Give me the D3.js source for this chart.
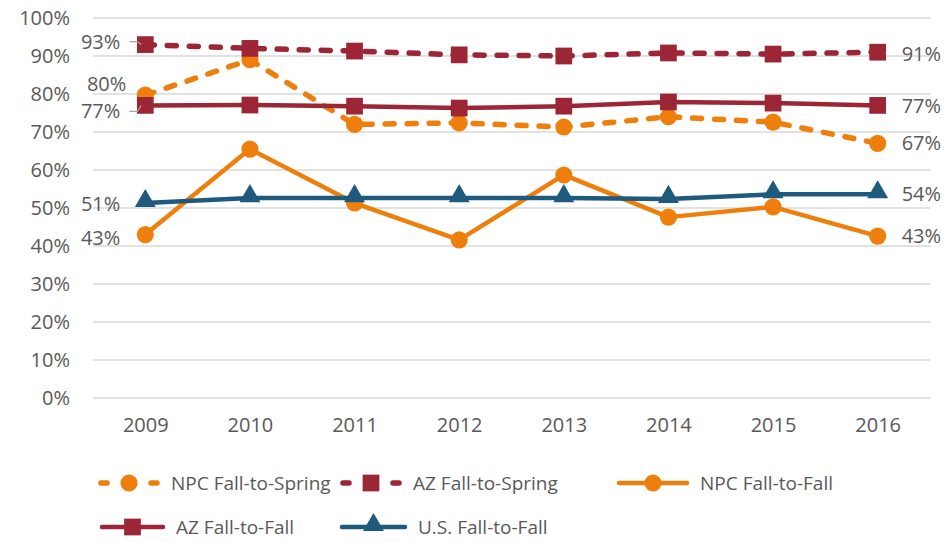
<!DOCTYPE html>
<html>
<head>
<meta charset="utf-8">
<script src="https://cdn.jsdelivr.net/npm/d3@7"></script>
<style>
    body { margin: 0; background: #fff; }
    text { font-family: "Open Sans", sans-serif; fill: #595959; }
</style>
</head>
<body>
<div id="chart"></div>
<script>
// data
var years = ["2009", "2010", "2011", "2012", "2013", "2014", "2015", "2016"];
var npcFallSpring = [0.797, 0.89, 0.72, 0.724, 0.713, 0.74, 0.726, 0.67];
var azFallSpring = [0.93, 0.92, 0.913, 0.903, 0.90, 0.908, 0.905, 0.91];
var npcFallFall = [0.43, 0.655, 0.513, 0.416, 0.587, 0.476, 0.503, 0.426];
var azFallFall = [0.77, 0.771, 0.768, 0.763, 0.768, 0.779, 0.776, 0.77];
var usFallFall = [0.513, 0.526, 0.526, 0.526, 0.526, 0.524, 0.536, 0.536];
var yTicks = [0, 0.1, 0.2, 0.3, 0.4, 0.5, 0.6, 0.7, 0.8, 0.9, 1];

var orange = "#EF7F0C", maroon = "#9C2536", blue = "#1D5A7E";

var series = [
    { name: "NPC Fall-to-Spring", values: npcFallSpring, color: orange, dash: true, marker: "circle" },
    { name: "AZ Fall-to-Spring", values: azFallSpring, color: maroon, dash: true, marker: "square" },
    { name: "NPC Fall-to-Fall", values: npcFallFall, color: orange, dash: false, marker: "circle" },
    { name: "AZ Fall-to-Fall", values: azFallFall, color: maroon, dash: false, marker: "square" },
    { name: "U.S. Fall-to-Fall", values: usFallFall, color: blue, dash: false, marker: "triangle" }
];

// label offsets (left = at 2009, right = at 2016)
var leftDy = [-11, -3, 3, 6, 1];
var rightDy = [0, 2, 0, 1, 0];

var W = 947, H = 542;
var svg = d3.select("#chart").append("svg")
    .attr("width", W).attr("height", H);

var xScale = d3.scalePoint().domain(years).range([93, 930]).padding(0.5);
var yScale = d3.scaleLinear().domain([0, 1]).range([398, 18]);

// gridlines
svg.append("g")
    .selectAll("line")
    .data(yTicks)
    .enter()
    .append("line")
    .attr("x1", 93).attr("x2", 930)
    .attr("y1", function (d) { return yScale(d) })
    .attr("y2", function (d) { return yScale(d) })
    .attr("stroke", "#d9d9d9")
    .attr("stroke-width", 1.5);

// y axis
var yAxis = d3.axisLeft(yScale).tickValues(yTicks).tickFormat(d3.format(".0%")).tickSize(0).tickPadding(0);
var gy = svg.append("g").attr("transform", "translate(70,0)").call(yAxis);
gy.select(".domain").remove();
gy.selectAll("text").style("font-size", "20px").attr("fill", "#595959");

// x axis
var xAxis = d3.axisBottom(xScale).tickSize(0).tickPadding(0);
var gx = svg.append("g").attr("transform", "translate(0,420)").call(xAxis);
gx.select(".domain").remove();
gx.selectAll("text").style("font-size", "20px").attr("fill", "#595959").attr("dy", "0.6em");

var symbols = {
    circle: d3.symbol().type(d3.symbolCircle).size(230),
    square: d3.symbol().type(d3.symbolSquare).size(280),
    triangle: d3.symbol().type(d3.symbolTriangle).size(190)
};

function strokeLine(sel, s) {
    sel.attr("stroke", s.color)
        .attr("stroke-width", s.dash ? 5.5 : 4.5)
        .attr("fill", "none")
        .attr("stroke-linecap", s.dash ? "round" : "butt")
        .attr("stroke-linejoin", "round")
        .attr("stroke-dasharray", s.dash ? "9,13" : null);
}

function marker(g, s, x, y) {
    g.append("path")
        .attr("d", symbols[s.marker]())
        .attr("transform", "translate(" + x + "," + (s.marker == "triangle" ? y - 2 : y) + ")")
        .attr("fill", s.color);
}

var line = d3.line()
    .x(function (d, i) { return xScale(years[i]) })
    .y(function (d) { return yScale(d) });

series.forEach(function (s) {
    var g = svg.append("g");
    g.append("path").attr("d", line(s.values)).call(strokeLine, s);
    s.values.forEach(function (v, i) { marker(g, s, xScale(years[i]), yScale(v)); });
});

// data labels
var fmt = function (v) { return Math.round(v * 100) + "%"; };
series.forEach(function (s, k) {
    var v0 = s.values[0], v1 = s.values[s.values.length - 1];
    var lx = xScale(years[0]) - (k == 0 ? 19 : 25);
    svg.append("text")
        .attr("x", lx)
        .attr("y", yScale(v0) + leftDy[k])
        .attr("dy", "0.35em")
        .attr("text-anchor", "end")
        .style("font-size", "20px")
        .text(fmt(v0));
    svg.append("text")
        .attr("x", xScale(years[years.length - 1]) + 24)
        .attr("y", yScale(v1) + rightDy[k])
        .attr("dy", "0.35em")
        .style("font-size", "20px")
        .text(fmt(v1));
});

// leader lines for the 93% and 77% labels
[1, 3].forEach(function (k) {
    var x0 = xScale(years[0]), y0 = yScale(series[k].values[0]);
    svg.append("polyline")
        .attr("points", [[x0 - 16, y0 + leftDy[k]], [x0 - 8, y0 + leftDy[k]], [x0 - 4, y0]].join(" "))
        .attr("fill", "none")
        .attr("stroke", "#a6a6a6")
        .attr("stroke-width", 1.2);
});

// legend: [x, y, line length]
var legendPos = [[98, 483, 62], [340, 483, 62], [617, 483, 72], [100, 527, 65], [340, 527, 67]];
series.forEach(function (s, k) {
    var p = legendPos[k], len = p[2];
    var g = svg.append("g").attr("transform", "translate(" + p[0] + "," + p[1] + ")");
    if (s.dash) {
        g.append("line").attr("x1", 3).attr("x2", 9).call(strokeLine, s).attr("stroke-dasharray", null);
        g.append("line").attr("x1", len - 9).attr("x2", len - 3).call(strokeLine, s).attr("stroke-dasharray", null);
    } else {
        g.append("line").attr("x1", 2).attr("x2", len - 2).call(strokeLine, s).attr("stroke-linecap", "round");
    }
    marker(g, s, len / 2, 0);
    g.append("text")
        .attr("x", len + 11)
        .attr("dy", "0.35em")
        .style("font-size", "19px")
        .text(s.name);
});
</script>
</body>
</html>
